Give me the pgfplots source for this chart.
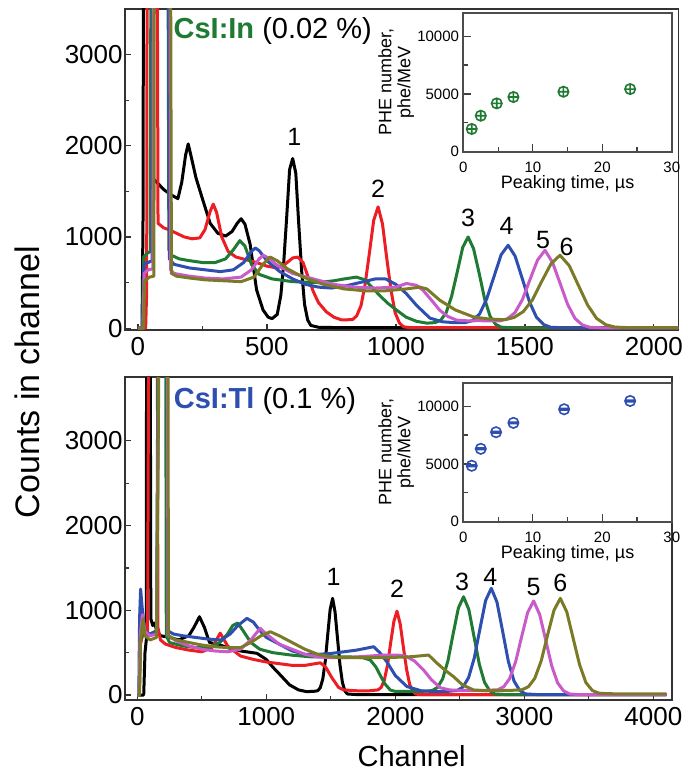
\documentclass[border=0pt]{standalone}
\usepackage{fontspec}
\setmainfont{Liberation Sans}
\usepackage{pgfplots}
\pgfplotsset{compat=1.18}
\usetikzlibrary{plotmarks}

\definecolor{cRed}{HTML}{EE1D23}
\definecolor{cGreen}{HTML}{1F7A33}
\definecolor{cBlue}{HTML}{2E4FB0}
\definecolor{cMag}{HTML}{C95AC9}
\definecolor{cOlive}{HTML}{7B7A26}

% circle with a double horizontal bar (blue inset points)
\pgfdeclareplotmark{barcircle}{%
  \pgfpathcircle{\pgfpointorigin}{\pgfplotmarksize}%
  \pgfpathmoveto{\pgfpoint{-\pgfplotmarksize}{0.15\pgfplotmarksize}}%
  \pgfpathlineto{\pgfpoint{\pgfplotmarksize}{0.15\pgfplotmarksize}}%
  \pgfpathmoveto{\pgfpoint{-\pgfplotmarksize}{-0.15\pgfplotmarksize}}%
  \pgfpathlineto{\pgfpoint{\pgfplotmarksize}{-0.15\pgfplotmarksize}}%
  \pgfusepathqstroke}

\tikzset{plab/.style={font=\fontsize{12.5}{12.5}\selectfont, inner sep=0pt}}

\pgfplotsset{
  spec/.style={
    scale only axis, no markers,
    xtick pos=left, ytick pos=left,
    tick align=inside,
    major tick length=3pt, minor tick length=2pt,
    minor x tick num=1, minor y tick num=1,
    axis line style={line width=0.7pt, black!80},
    tick style={line width=0.6pt, black!80},
    ytick={0,1000,2000,3000},
    tick label style={font=\fontsize{13}{13}\selectfont},
    yticklabel style={inner xsep=1pt},
    /pgf/number format/assume math mode=true,
    /pgf/number format/set thousands separator={},
    every axis plot/.append style={line width=1.5pt, line join=round},
  },
  inset/.style={
    scale only axis, width=104.2pt, height=69.2pt,
    xmin=0, xmax=30, ymin=0, ymax=12000,
    xtick={0,10,20,30}, ytick={0,5000,10000},
    scaled y ticks=false,
    minor x tick num=1, minor y tick num=1,
    xtick pos=left, ytick pos=left, tick align=inside,
    major tick length=4pt, minor tick length=2.5pt,
    axis line style={line width=1pt, black!70},
    tick style={line width=0.6pt, black!75},
    axis background/.style={fill=white},
    tick label style={font=\fontsize{7.5}{8}\selectfont},
    xticklabel style={yshift=-1.5pt},
    yticklabel style={inner xsep=2pt},
    /pgf/number format/assume math mode=true,
    /pgf/number format/set thousands separator={},
    xlabel={Peaking time, µs},
    ylabel={PHE number,\\phe/MeV},
    label style={font=\fontsize{9}{9.5}\selectfont},
    xlabel style={at={(axis description cs:0.5,-0.235)}, anchor=center},
    ylabel style={at={(axis description cs:-0.323,0.5)}, anchor=center, align=center},
  },
}

\begin{document}
\begin{tikzpicture}

% ---------------- top panel: CsI:In ----------------
\begin{axis}[spec,
  at={(62.5pt,222pt)}, anchor=south west,
  width=276.7pt, height=160.5pt,
  xmin=-50, xmax=2095, ymin=-20, ymax=3500,
  xtick={0,500,1000,1500,2000},
]
\addplot[black] coordinates {(0,0)(16,0)(20,1250)(24,9000)(50,9000)(56,1650)(80,1580)(100,1520)(130,1460)(155,1420)(170,1600)(185,1900)(195,2020)(205,1900)(225,1650)(250,1420)(280,1150)(310,1040)(340,1010)(365,1060)(385,1150)(400,1200)(415,1140)(435,920)(460,420)(485,200)(505,120)(520,105)(540,150)(554,360)(565,710)(577,1230)(588,1740)(600,1860)(612,1700)(623,1160)(635,620)(646,260)(658,90)(670,30)(700,10)(800,5)(2100,5)};
\addplot[cRed] coordinates {(0,0)(30,0)(34,400)(38,9000)(70,9000)(78,1150)(100,1100)(120,1080)(150,1040)(180,1000)(210,980)(240,990)(260,1080)(280,1280)(292,1360)(305,1270)(325,1000)(350,840)(380,780)(420,750)(460,720)(500,680)(540,660)(570,700)(600,770)(620,780)(640,720)(660,560)(680,400)(700,280)(730,180)(760,120)(790,90)(832,94)(848,135)(865,249)(881,486)(898,839)(914,1183)(931,1330)(948,1143)(964,779)(981,416)(997,169)(1014,55)(1030,14)(1060,5)(2100,4)};
\addplot[cGreen] coordinates {(0,0)(18,0)(22,780)(35,820)(48,840)(54,9000)(112,9000)(120,860)(130,800)(160,760)(200,740)(250,720)(300,720)(340,760)(370,860)(395,960)(415,900)(440,700)(470,590)(520,540)(600,510)(700,500)(760,520)(800,540)(847,560)(880,530)(910,440)(940,350)(970,270)(1003,197)(1040,120)(1080,75)(1120,55)(1152,61)(1174,88)(1195,171)(1216,350)(1238,619)(1259,886)(1280,1000)(1301,871)(1323,599)(1344,320)(1365,131)(1386,43)(1408,11)(1450,4)(2100,4)};
\addplot[cBlue] coordinates {(0,0)(19,0)(23,700)(40,720)(55,740)(60,9000)(114,9000)(122,760)(140,700)(200,660)(260,640)(320,620)(370,640)(410,720)(440,840)(455,880)(470,850)(500,740)(550,620)(600,540)(650,480)(700,450)(750,440)(800,460)(860,500)(920,540)(960,540)(1000,480)(1040,380)(1080,250)(1132,110)(1180,70)(1230,60)(1270,62)(1298,84)(1325,159)(1352,321)(1380,564)(1408,806)(1435,909)(1462,791)(1490,542)(1518,286)(1545,119)(1573,39)(1600,10)(1650,4)(2100,4)};
\addplot[cMag] coordinates {(0,0)(20,0)(24,600)(40,640)(58,650)(63,9000)(120,9000)(127,640)(140,600)(200,570)(260,550)(330,540)(400,560)(440,640)(470,760)(486,800)(505,770)(540,690)(600,600)(680,540)(760,480)(840,450)(920,440)(1000,450)(1041,490)(1080,470)(1105,416)(1140,300)(1170,197)(1200,130)(1235,88)(1280,80)(1320,82)(1360,80)(1404,79)(1433,105)(1462,172)(1491,317)(1520,535)(1549,747)(1578,854)(1607,722)(1636,495)(1665,265)(1694,107)(1723,35)(1752,9)(1800,4)(2100,4)};
\addplot[cOlive] coordinates {(0,0)(22,0)(26,520)(45,560)(62,570)(66,9000)(122,9000)(130,600)(150,570)(200,550)(260,530)(330,520)(400,510)(450,560)(485,700)(512,780)(540,740)(580,650)(640,560)(720,480)(800,430)(880,410)(960,410)(1040,430)(1093,450)(1120,430)(1170,307)(1230,200)(1300,124)(1360,100)(1423,93)(1458,117)(1494,182)(1530,314)(1565,512)(1601,705)(1636,800)(1672,685)(1707,472)(1743,254)(1778,107)(1814,37)(1849,12)(1900,6)(2100,6)};
\node[anchor=base west, inner sep=0pt, font=\fontsize{14.5}{14.5}\selectfont] at (axis cs:137,3173) {\textbf{\color{cGreen}CsI:In} (0.02 \%)};
\node[plab] at (axis cs:606,2095) {1};
\node[plab] at (axis cs:931,1530) {2};
\node[plab] at (axis cs:1280,1205) {3};
\node[plab] at (axis cs:1429,1120) {4};
\node[plab] at (axis cs:1570,964) {5};
\node[plab] at (axis cs:1662,890) {6};
\end{axis}

\begin{axis}[inset, at={(231.7pt,311.2pt)}, anchor=south west]
\addplot[only marks, mark=oplus, mark size=2.6pt, cGreen, line width=0.8pt]
  coordinates {(1.2,1960)(2.5,3110)(4.8,4180)(7.2,4730)(14.4,5190)(24.0,5420)};
\end{axis}

% ---------------- bottom panel: CsI:Tl ----------------
\begin{axis}[spec,
  at={(62.5pt,37pt)}, anchor=south west,
  width=273.4pt, height=161.4pt,
  xmin=-95, xmax=4143, ymin=-59, ymax=3752,
  xtick={0,1000,2000,3000,4000},
]
\addplot[black] coordinates {(0,0)(50,0)(60,500)(70,650)(75,9000)(95,9000)(105,900)(120,820)(135,850)(150,760)(180,700)(250,680)(320,650)(400,700)(440,800)(482,924)(520,800)(560,620)(620,600)(700,560)(800,520)(928,492)(1000,420)(1050,330)(1109,236)(1180,120)(1250,60)(1315,39)(1380,45)(1400,52)(1419,88)(1438,189)(1457,398)(1476,708)(1495,1010)(1514,1141)(1533,980)(1552,668)(1571,358)(1590,149)(1609,48)(1628,12)(1700,5)(4100,5)};
\addplot[cRed] coordinates {(0,0)(15,0)(25,600)(40,700)(80,700)(100,9000)(150,9000)(160,800)(180,650)(220,600)(300,560)(400,530)(500,510)(580,560)(643,730)(700,580)(800,460)(900,420)(1000,390)(1100,370)(1200,350)(1300,350)(1380,370)(1419,380)(1460,330)(1510,200)(1560,90)(1600,60)(1700,50)(1800,50)(1866,60)(1891,91)(1915,177)(1940,356)(1964,616)(1989,869)(2013,990)(2038,839)(2062,571)(2087,306)(2111,127)(2136,41)(2160,10)(2220,3)(4100,3)};
\addplot[cGreen] coordinates {(0,0)(15,0)(25,650)(50,750)(100,720)(150,760)(175,9000)(215,9000)(225,700)(250,620)(350,580)(450,560)(550,560)(640,620)(700,720)(740,820)(778,850)(820,760)(880,620)(950,540)(1050,500)(1200,470)(1350,450)(1500,450)(1650,450)(1750,440)(1806,413)(1850,330)(1884,230)(1920,130)(1961,59)(2000,42)(2100,42)(2200,42)(2286,52)(2327,89)(2367,191)(2408,404)(2448,720)(2489,1028)(2529,1160)(2570,1008)(2610,690)(2651,364)(2691,151)(2732,49)(2772,12)(2850,5)(4100,5)};
\addplot[cBlue] coordinates {(0,0)(12,0)(18,900)(26,1250)(40,1000)(60,750)(100,720)(150,750)(185,9000)(225,9000)(235,760)(280,720)(350,700)(450,680)(550,660)(650,650)(720,720)(780,820)(850,905)(900,860)(950,760)(1000,680)(1100,600)(1200,520)(1300,480)(1400,480)(1500,490)(1600,510)(1700,530)(1832,570)(1880,500)(1935,390)(2000,230)(2090,100)(2200,50)(2300,40)(2400,42)(2480,53)(2524,94)(2568,205)(2612,437)(2656,781)(2700,1116)(2744,1260)(2788,1096)(2832,751)(2876,397)(2920,165)(2964,54)(3008,13)(3100,5)(4100,5)};
\addplot[cMag] coordinates {(0,0)(15,0)(22,700)(40,950)(60,750)(100,700)(150,720)(190,9000)(228,9000)(238,700)(300,640)(400,580)(500,540)(600,520)(700,510)(800,540)(880,650)(953,787)(1000,720)(1100,600)(1200,540)(1300,480)(1400,450)(1500,440)(1600,440)(1700,450)(1800,460)(1900,470)(2013,472)(2080,460)(2150,400)(2219,295)(2280,180)(2349,85)(2420,60)(2500,55)(2600,55)(2700,55)(2793,62)(2840,97)(2886,193)(2933,395)(2979,688)(3026,975)(3072,1110)(3119,950)(3165,653)(3212,345)(3258,143)(3305,47)(3351,12)(3420,5)(4100,5)};
\addplot[cOlive] coordinates {(0,0)(18,0)(25,650)(45,900)(60,700)(100,650)(150,680)(195,9000)(232,9000)(242,700)(300,650)(400,620)(500,590)(600,570)(700,560)(800,560)(880,620)(960,700)(1031,747)(1100,700)(1200,620)(1300,540)(1400,480)(1500,450)(1600,440)(1700,440)(1800,440)(1900,440)(2000,445)(2100,450)(2180,460)(2258,472)(2320,380)(2380,300)(2452,216)(2520,120)(2607,59)(2700,50)(2800,52)(2900,55)(2982,62)(3032,98)(3081,197)(3131,404)(3180,707)(3230,1001)(3279,1141)(3329,981)(3378,672)(3428,359)(3477,147)(3527,53)(3576,22)(3650,15)(4100,12)};
\node[anchor=base west, inner sep=0pt, font=\fontsize{14.5}{14.5}\selectfont] at (axis cs:281,3385) {\textbf{\color{cBlue}CsI:Tl} (0.1 \%)};
\node[plab] at (axis cs:1522,1397) {1};
\node[plab] at (axis cs:2013,1260) {2};
\node[plab] at (axis cs:2517,1338) {3};
\node[plab] at (axis cs:2736,1397) {4};
\node[plab] at (axis cs:3072,1279) {5};
\node[plab] at (axis cs:3279,1318) {6};
\end{axis}

\begin{axis}[inset, at={(231.7pt,126.2pt)}, anchor=south west]
\addplot[only marks, mark=barcircle, mark size=2.6pt, cBlue, line width=0.8pt]
  coordinates {(1.2,4840)(2.5,6310)(4.7,7750)(7.2,8560)(14.5,9740)(24.0,10460)};
\end{axis}

% shared axis titles
\node[rotate=90, font=\fontsize{17}{17}\selectfont] at (13.5pt,196pt) {Counts in channel};
\node[font=\fontsize{14.5}{14.5}\selectfont] at (205.8pt,8.7pt) {Channel};

\pgfresetboundingbox
\path[use as bounding box] (0,0) rectangle (341.5pt,387pt);
\end{tikzpicture}
\end{document}
